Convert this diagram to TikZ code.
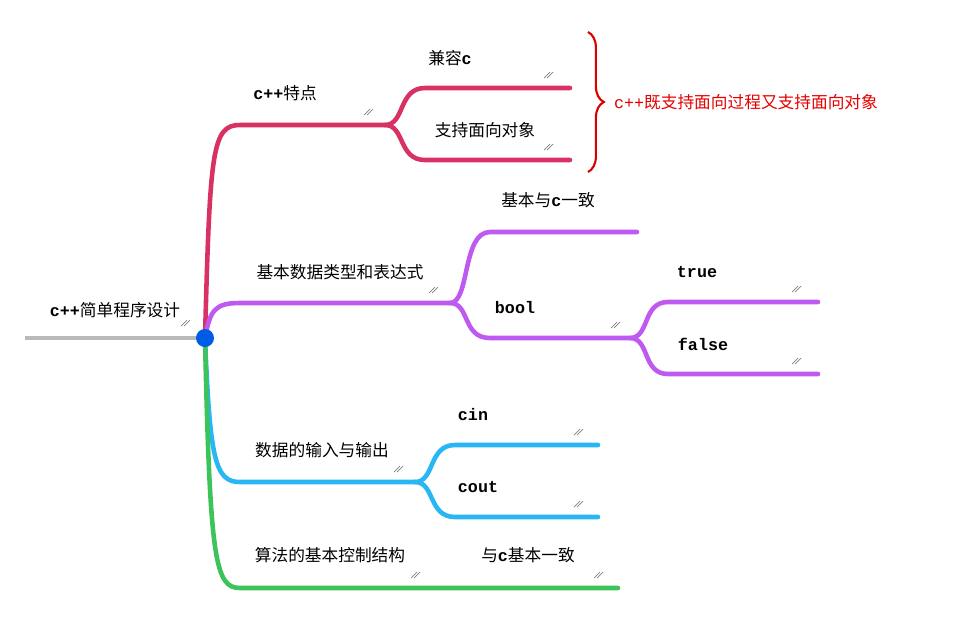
\documentclass[tikz,border=0pt]{standalone}
\usepackage{fontspec}
\usepackage{tikz}
\usetikzlibrary{decorations.pathreplacing}
\setmonofont{Liberation Mono}
\newfontfamily\cjk{Noto Sans CJK SC}
\definecolor{topicred}{RGB}{216,50,100}
\definecolor{topicpurple}{RGB}{190,90,240}
\definecolor{topicblue}{RGB}{40,182,245}
\definecolor{topicgreen}{RGB}{60,196,90}
\newcommand{\tx}[1]{{\ttfamily\bfseries #1}}
\newcommand{\hatchmark}[1]{\draw[gray,thin,shift={(#1)}] (-9,-4) -- (-3,-10) (-6,-4) -- (0,-10);}

\begin{document}
\begin{tikzpicture}[x=0.02cm,y=-0.02cm,
    branch/.style={line width=2.6pt,line cap=round},
    lbl/.style={font=\fontsize{9.5}{11}\selectfont\cjk,inner sep=1pt}]
        \useasboundingbox (0,0) rectangle (969,616);

        % root
        \coordinate (root) at (205,338);
        \draw[line width=2.6pt,gray!55] (25,338) -- (root);
        \node[lbl] (rootlbl) at (115,310) {\tx{c++}简单程序设计};
        \hatchmark{190,330}

        % c++ features
        \coordinate (feat) at (385,125);
        \coordinate (compat) at (570,88);
        \coordinate (oop) at (570,160);
        \draw[branch,topicred] (root) .. controls (210,150) and (212,125) .. (240,125) -- (feat);
        \draw[branch,topicred] (feat) .. controls (405,125) and (398,88) .. (425,88) -- (compat);
        \draw[branch,topicred] (feat) .. controls (405,125) and (398,160) .. (425,160) -- (oop);
        \node[lbl] (featlbl) at (285,93) {\tx{c++}特点};
        \node[lbl] (compatlbl) at (450,58) {兼容\tx{c}};
        \node[lbl] (ooplbl) at (485,130) {支持面向对象};
        \hatchmark{373,119}
        \hatchmark{553,82}
        \hatchmark{553,154}
        \draw[decorate,decoration={brace,amplitude=9pt},red!85!black,line width=1.2pt]
            (588,32) -- (588,172);
        \node[lbl,text=red!90!black,anchor=west] (note) at (612,102) {\ttfamily c++\cjk 既支持面向过程又支持面向对象};

        % data types
        \coordinate (types) at (450,303);
        \coordinate (same) at (637,232);
        \coordinate (bool) at (630,338);
        \coordinate (true) at (818,302);
        \coordinate (false) at (818,374);
        \draw[branch,topicpurple] (root) .. controls (210,310) and (215,303) .. (240,303) -- (types);
        \draw[branch,topicpurple] (types) .. controls (470,303) and (462,232) .. (490,232) -- (same);
        \draw[branch,topicpurple] (types) .. controls (470,303) and (462,338) .. (490,338) -- (bool);
        \draw[branch,topicpurple] (bool) .. controls (650,338) and (642,302) .. (668,302) -- (true);
        \draw[branch,topicpurple] (bool) .. controls (650,338) and (642,374) .. (668,374) -- (false);
        \node[lbl] (typeslbl) at (340,272) {基本数据类型和表达式};
        \node[lbl] (samelbl) at (548,200) {基本与\tx{c}一致};
        \node[lbl] (boollbl) at (515,308) {\tx{bool}};
        \node[lbl] (truelbl) at (697,272) {\tx{true}};
        \node[lbl] (falselbl) at (703,344) {\tx{false}};
        \hatchmark{438,297}
        \hatchmark{620,332}
        \hatchmark{801,296}
        \hatchmark{801,368}

        % input / output
        \coordinate (io) at (415,482);
        \coordinate (cin) at (598,445);
        \coordinate (cout) at (598,517);
        \draw[branch,topicblue] (root) .. controls (210,460) and (215,482) .. (240,482) -- (io);
        \draw[branch,topicblue] (io) .. controls (435,482) and (428,445) .. (455,445) -- (cin);
        \draw[branch,topicblue] (io) .. controls (435,482) and (428,517) .. (455,517) -- (cout);
        \node[lbl] (iolbl) at (322,450) {数据的输入与输出};
        \node[lbl] (cinlbl) at (473,415) {\tx{cin}};
        \node[lbl] (coutlbl) at (478,487) {\tx{cout}};
        \hatchmark{403,476}
        \hatchmark{583,439}
        \hatchmark{583,511}

        % control structures
        \coordinate (ctrl) at (618,588);
        \draw[branch,topicgreen] (root) .. controls (210,560) and (215,588) .. (240,588) -- (ctrl);
        \node[lbl] (ctrllbl) at (330,555) {算法的基本控制结构};
        \node[lbl] (ctrlnote) at (528,555) {与\tx{c}基本一致};
        \hatchmark{420,582}
        \hatchmark{603,582}

        \fill[blue!60!cyan!90!black] (root) circle (9);
\end{tikzpicture}
\end{document}
